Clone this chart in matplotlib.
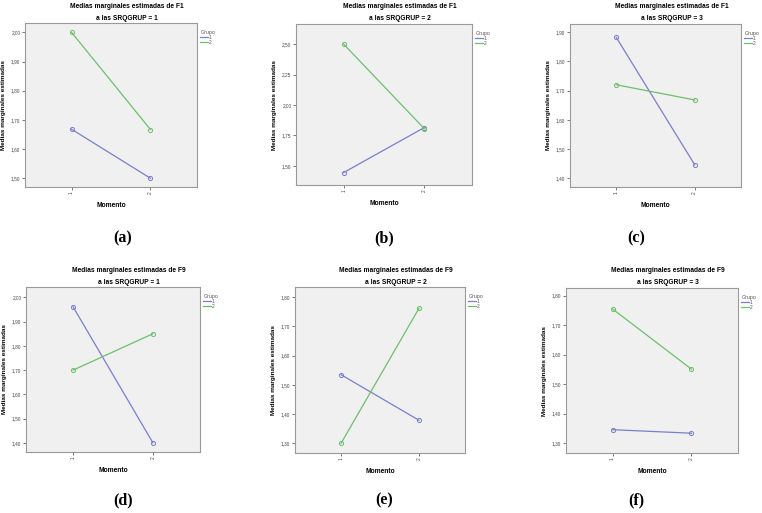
import matplotlib
matplotlib.use("Agg")
import matplotlib.pyplot as plt
from matplotlib.ticker import FuncFormatter, MultipleLocator

plt.rcParams["font.family"] = ["Liberation Sans", "DejaVu Sans"]

W, H = 762, 513

momento = [1, 2]
momento_labels = ["1", "2"]
grupos = ["1", "2"]
factors = ["F1", "F1", "F1", "F9", "F9", "F9"]
srqgrup = [1, 2, 3, 1, 2, 3]
captions = ["(a)", "(b)", "(c)", "(d)", "(e)", "(f)"]

g1_values = [
    [1.668, 1.50],
    [1.445, 1.815],
    [1.882, 1.446],
    [1.961, 1.40],
    [1.535, 1.379],
    [1.346, 1.334],
]
g2_values = [
    [2.00, 1.667],
    [2.50, 1.805],
    [1.72, 1.668],
    [1.70, 1.85],
    [1.30, 1.762],
    [1.755, 1.551],
]

# layout (pixels, top-left origin): box left, right, top, bottom
boxes = [
    (25, 197, 23, 187),
    (296, 472, 24, 185),
    (570, 741, 24, 187),
    (26, 200, 287, 452),
    (295, 465, 287, 453),
    (566, 738, 288, 453),
]
ylims = [
    (1.470, 2.032),
    (1.343, 2.665),
    (1.370, 1.928),
    (1.362, 2.043),
    (1.267, 1.835),
    (1.267, 1.826),
]
ysteps = [0.10, 0.25, 0.10, 0.10, 0.10, 0.10]
caption_pos = [(123, 238), (384, 238), (636, 238), (123, 500), (384, 500), (636, 500)]

c1 = "#7a7fcc"
c2 = "#6cc06c"

fig = plt.figure(figsize=(W / 100, H / 100), dpi=100)
fig.patch.set_facecolor("white")

fmt = FuncFormatter(lambda v, p: f"{v:.2f}".replace(".", ","))

for i in range(6):
    l, r, t, b = boxes[i]
    bw, bh = r - l, b - t
    ax = fig.add_axes([l / W, 1 - b / H, bw / W, bh / H])
    ax.set_facecolor("#f0f0f0")
    for s in ax.spines.values():
        s.set_color("#9a9a9a")
        s.set_linewidth(0.8)
    ax.plot(momento, g1_values[i], color=c1, lw=0.9, marker="o", ms=3.0,
            mfc="none", mec=c1, mew=0.7, label=grupos[0])
    ax.plot(momento, g2_values[i], color=c2, lw=0.9, marker="o", ms=3.0,
            mfc="none", mec=c2, mew=0.7, label=grupos[1])
    ax.set_xlim(0.41, 2.59)
    ax.set_ylim(*ylims[i])
    ax.yaxis.set_major_locator(MultipleLocator(ysteps[i]))
    ax.yaxis.set_major_formatter(fmt)
    ax.set_xticks(momento)
    ax.set_xticklabels(momento_labels, rotation=90)
    ax.tick_params(axis="both", labelsize=3.4, length=2.2, width=0.5, pad=1.2,
                   colors="#444444")
    ax.set_xlabel("Momento", fontsize=4.8, fontweight="bold")
    ax.xaxis.set_label_coords(0.5, -15 / bh)
    ax.set_ylabel("Medias marginales estimadas", fontsize=4.6, fontweight="bold")
    ax.yaxis.set_label_coords(-19 / bw, 0.5)
    cx = (l + r) / 2 + 16
    fig.text(cx / W, 1 - (t - 17) / H, f"Medias marginales estimadas de {factors[i]}",
             ha="center", va="center", fontsize=4.8, fontweight="bold")
    fig.text(cx / W, 1 - (t - 5) / H, f"a las SRQGRUP = {srqgrup[i]}",
             ha="center", va="center", fontsize=4.8, fontweight="bold")
    leg = ax.legend(title="Grupo", loc="upper left", bbox_to_anchor=(1.0, 0.98),
                    frameon=False, fontsize=3.4, title_fontsize=3.8,
                    handlelength=1.6, handletextpad=0.2, labelspacing=0.05,
                    borderaxespad=0.3, markerscale=0)
    leg._legend_box.align = "left"
    for txt in leg.get_texts():
        txt.set_color("#555555")
    leg.get_title().set_color("#555555")
    for h in leg.legend_handles:
        h.set_marker("")
    cxp, cyp = caption_pos[i]
    fig.text(cxp / W, 1 - cyp / H, captions[i], ha="center", va="center",
             fontsize=11.5, fontweight="bold", family="Liberation Serif")

fig.savefig("out.png", dpi=100, facecolor="white")
